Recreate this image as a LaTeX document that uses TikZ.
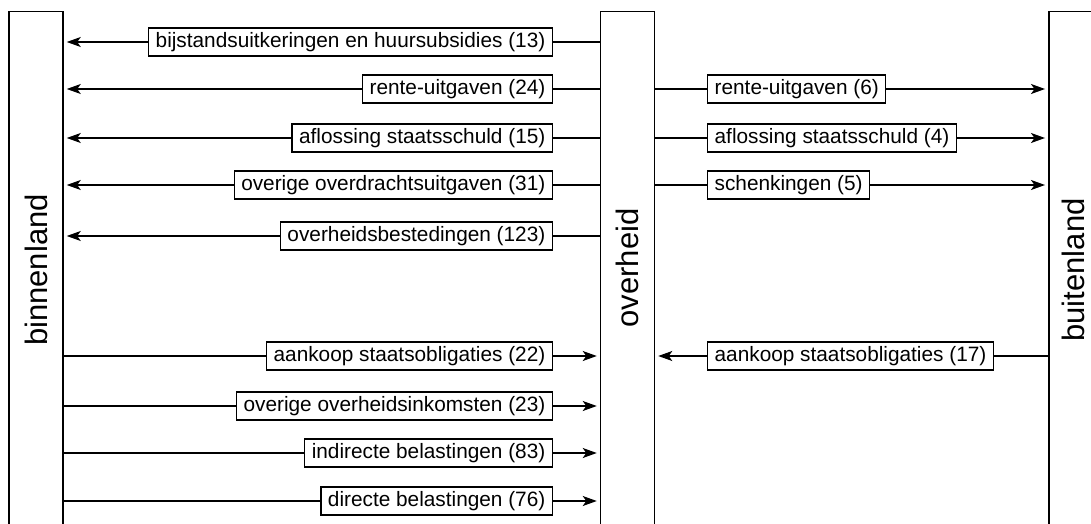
\documentclass[tikz,border=0pt]{standalone}
\usepackage{fontspec}
\setmainfont{Liberation Sans}
\usetikzlibrary{arrows.meta, positioning}

\tikzset{
  sector/.style={draw, line width=1.5pt, minimum width=54pt, minimum height=600pt, anchor=north},
  sectornaam/.style={rotate=90, font=\fontsize{31}{37}\selectfont},
  stroom/.style={draw, line width=1.3pt, inner xsep=7pt, minimum height=28pt, text height=15pt, text depth=4.5pt, font=\fontsize{20.8}{25}\selectfont},
  lijn/.style={line width=1.3pt},
  pijl/.style={line width=1.3pt, -{Stealth[length=14pt, width=10pt, inset=3.5pt]}, shorten >=3pt},
}

\begin{document}
\begin{tikzpicture}[x=1pt, y=-1pt]
        \useasboundingbox (0,0) rectangle (1091,524);
        \clip (0,0) rectangle (1091,524);

        % de drie sectoren
        \node[sector] (binnen) at (36,11) {};
        \node[sector] (overheid) at (627.5,11) {};
        \node[sector, minimum width=100pt, anchor=north west] (buiten) at (1048,11) {};
        \node[sectornaam] (binnentekst) at (36,270) {binnenland};
        \node[sectornaam] (overheidtekst) at (627.5,268) {overheid};
        \node[sectornaam] (buitentekst) at (1073,270) {buitenland};

        % uitgaven van de overheid aan het binnenland
        \node[stroom, anchor=east] (bijstand) at (553,42) {bijstandsuitkeringen en huursubsidies (13)};
        \node[stroom, anchor=east] (rentebin) at (553,89) {rente-uitgaven (24)};
        \node[stroom, anchor=east] (aflosbin) at (553,138) {aflossing staatsschuld (15)};
        \node[stroom, anchor=east] (overdracht) at (553,185) {overige overdrachtsuitgaven (31)};
        \node[stroom, anchor=east] (bested) at (553,236) {overheidsbestedingen (123)};
        \foreach \n in {bijstand, rentebin, aflosbin, overdracht, bested} {
          \draw[pijl] (\n) -- (\n -| binnen.east);
          \draw[lijn] (\n) -- (\n -| overheid.west);
        }

        % uitgaven van de overheid aan het buitenland
        \node[stroom, anchor=west] (rentebui) at (707,89) {rente-uitgaven (6)};
        \node[stroom, anchor=west] (aflosbui) at (707,138) {aflossing staatsschuld (4)};
        \node[stroom, anchor=west] (schenk) at (707,185) {schenkingen (5)};
        \foreach \n in {rentebui, aflosbui, schenk} {
          \draw[pijl] (\n) -- (\n -| buiten.west);
          \draw[lijn] (\n) -- (\n -| overheid.east);
        }

        % inkomsten van de overheid
        \node[stroom, anchor=west] (aankoopbui) at (707,356) {aankoop staatsobligaties (17)};
        \draw[pijl] (aankoopbui) -- (aankoopbui -| overheid.east);
        \draw[lijn] (aankoopbui) -- (aankoopbui -| buiten.west);

        \node[stroom, anchor=east] (aankoopbin) at (553,356) {aankoop staatsobligaties (22)};
        \node[stroom, anchor=east] (inkomsten) at (553,406) {overige overheidsinkomsten (23)};
        \node[stroom, anchor=east] (indirect) at (553,453) {indirecte belastingen (83)};
        \node[stroom, anchor=east] (direct) at (553,501) {directe belastingen (76)};
        \foreach \n in {aankoopbin, inkomsten, indirect, direct} {
          \draw[pijl] (\n) -- (\n -| overheid.west);
          \draw[lijn] (\n) -- (\n -| binnen.east);
        }
\end{tikzpicture}
\end{document}
